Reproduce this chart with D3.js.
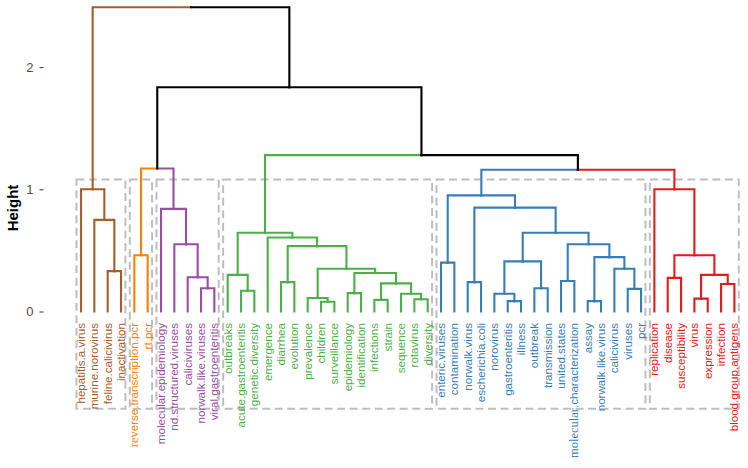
<!DOCTYPE html>
<html><head><meta charset="utf-8">
<script src="https://cdn.jsdelivr.net/npm/d3@7/dist/d3.min.js"></script>
<style>body{margin:0;background:#fff} svg{display:block}</style>
</head><body>
<svg id="chart" width="748" height="468"></svg>
<script>
// ---- data ----
const leafLabels = [
  "hepatitis.a.virus","murine.norovirus","feline.calicivirus","inactivation",
  "reverse.transcription.pcr","rt.pcr",
  "molecular.epidemiology","nd.structured.viruses","caliciviruses","norwalk.like.viruses","viral.gastroenteritis",
  "outbreaks","acute.gastroenteritis","genetic.diversity","emergence","diarrhea","evolution","prevalence","children",
  "surveillance","epidemiology","identification","infections","strain","sequence","rotavirus","diversity",
  "enteric.viruses","contamination","norwalk.virus","escherichia.coli","norovirus","gastroenteritis","illness",
  "outbreak","transmission","united.states","molecular.characterization","assay","norwalk.like.virus","calicivirus",
  "viruses","pcr",
  "replication","disease","susceptibility","virus","expression","infection","blood.group.antigens"
];
const clusterSizes = [4, 2, 5, 16, 16, 7];
const clusterColors = ["#A95B2C", "#FF7F00", "#984EA3", "#4DAF4A", "#377EB8", "#E41A1C"];
// hclust-style merges: negative = leaf (1-based), positive = earlier merge (1-based)
const mergeLeft  = [-3, -2, -1, -5, -10, -9, -8, -7, 4,
  -13, -12, -16, -19, -18, -21, -23, -26, -25, 16, 15, 14, 12, -15, 11,
  -28, -30, -33, -32, -35, 28, -37, -39, -42, -41, 32, 31, 30, 26, 25,
  -45, -47, -49, 41, 40, -44,
  39, 24, 9, 3];
const mergeRight = [-4, 1, 2, -6, -11, 5, 6, 7, 8,
  -14, 10, -17, -20, 13, -22, -24, -27, 17, 18, 19, 20, 21, 22, 23,
  -29, -31, -34, 27, -36, 29, -38, -40, -43, 33, 34, 35, 36, 37, 38,
  -46, -48, -50, 42, 43, 44,
  45, 46, 47, 48];
const mergeHeight = [0.33, 0.75, 1.0, 0.46, 0.19, 0.28, 0.55, 0.84, 1.17,
  0.17, 0.30, 0.24, 0.08, 0.11, 0.15, 0.095, 0.10, 0.145, 0.23, 0.315, 0.35, 0.535, 0.605, 0.645,
  0.40, 0.24, 0.085, 0.145, 0.19, 0.41, 0.25, 0.085, 0.185, 0.35, 0.445, 0.55, 0.645, 0.85, 0.95,
  0.275, 0.105, 0.225, 0.30, 0.46, 1.0,
  1.16, 1.28, 1.835, 2.49];
const yTicks = [0, 1, 2];
const rectTop = 1.08, rectBottom = -0.795;
const serifPrefix = {"reverse.transcription.pcr": "rev", "molecular.characterization": "molecular"};

// ---- scales ----
const nLeaves = leafLabels.length;
const x = d3.scaleLinear().domain([1, nLeaves]).range([81, 734.4]);
const y = d3.scaleLinear().domain([0, 2]).range([311.5, 67.1]);

const svg = d3.select("#chart");

// leaf cluster membership
const leafCluster = [];
clusterSizes.forEach((s, ci) => { for (let i = 0; i < s; i++) leafCluster.push(ci); });

// node info
const nodes = [];
function nodeInfo(ref) {
  if (ref < 0) { const i = -ref; return {pos: i, h: 0, cl: leafCluster[i - 1]}; }
  return nodes[ref - 1];
}
mergeLeft.forEach((l, k) => {
  const a = nodeInfo(l), b = nodeInfo(mergeRight[k]);
  nodes.push({pos: (a.pos + b.pos) / 2, h: mergeHeight[k], cl: a.cl === b.cl ? a.cl : -1, a, b});
});

// cluster rectangles
const gRect = svg.append("g");
let start = 1;
clusterSizes.forEach((s) => {
  const x0 = x(start - 0.34), x1 = x(start + s - 1 + 0.33);
  gRect.append("rect")
    .attr("x", x0).attr("y", y(rectTop))
    .attr("width", x1 - x0).attr("height", y(rectBottom) - y(rectTop))
    .attr("fill", "none").attr("stroke", "#BEBEBE").attr("stroke-width", 2)
    .attr("stroke-dasharray", "8,4.5");
  start += s;
});

// segments
const gSeg = svg.append("g").attr("fill", "none").attr("stroke-width", 2.1).attr("stroke-linecap", "square");
nodes.forEach(p => {
  [p.a, p.b].forEach(c => {
    gSeg.append("path")
      .attr("d", `M${x(c.pos)},${y(c.h)}V${y(p.h)}H${x(p.pos)}`)
      .attr("stroke", c.cl >= 0 ? clusterColors[c.cl] : "#000");
  });
});

// leaf labels
const gLab = svg.append("g").attr("font-family", "'Liberation Sans', Arial, sans-serif").attr("font-size", 11.6);
leafLabels.forEach((lab, i) => {
  const t = gLab.append("text")
    .attr("transform", `translate(${x(i + 1)},323) rotate(-90)`)
    .attr("text-anchor", "end").attr("dy", "0.35em")
    .attr("fill", clusterColors[leafCluster[i]]);
  const pre = serifPrefix[lab];
  if (pre) {
    t.append("tspan").attr("font-family", "'Liberation Serif', 'DejaVu Serif', serif").attr("font-size", 12.5).text(pre);
    t.append("tspan").text(lab.slice(pre.length));
  } else t.text(lab);
});

// y axis
const ax = svg.append("g").attr("transform", "translate(43.5,0)")
  .call(d3.axisLeft(y).tickValues(yTicks).tickSize(4).tickPadding(6).tickFormat(d3.format("d")));
ax.select(".domain").remove();
ax.selectAll("line").attr("stroke", "#333");
ax.selectAll("text").attr("fill", "#4D4D4D").attr("font-size", 13).attr("font-family", "'Liberation Sans', Arial, sans-serif");

svg.append("text")
  .attr("transform", "translate(18,208) rotate(-90)")
  .attr("text-anchor", "middle")
  .attr("font-family", "'Liberation Sans', Arial, sans-serif")
  .attr("font-weight", "bold").attr("font-size", 15).attr("fill", "#000")
  .text("Height");
</script>
</body></html>
